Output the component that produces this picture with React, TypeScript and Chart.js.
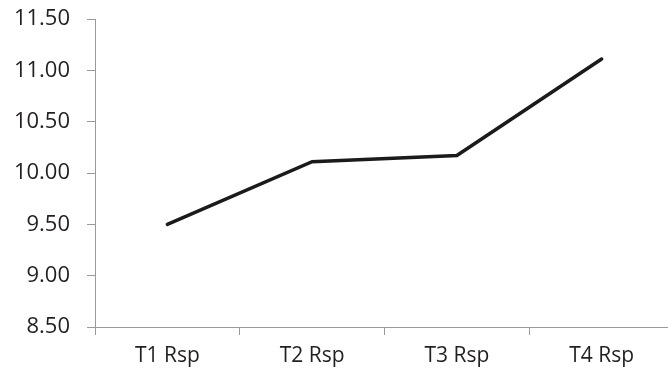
import React, { useEffect, useRef } from "react";
import { Chart, registerables } from "chart.js";

Chart.register(...registerables);

// Response means per time point
const categories: string[] = ["T1 Rsp", "T2 Rsp", "T3 Rsp", "T4 Rsp"];
const responseValues: number[] = [9.5, 10.11, 10.17, 11.11];
const yMin = 8.5;
const yMax = 11.5;
const yStep = 0.5;

const TEXT = "#231f20";
const AXIS = "#9a9a9a";
const FONT = "'Open Sans', 'Liberation Sans', sans-serif";

export default function App() {
  const canvasRef = useRef<HTMLCanvasElement | null>(null);

  useEffect(() => {
    document.body.style.margin = "0";
    const canvas = canvasRef.current;
    if (!canvas) return;
    const chart = new Chart(canvas, {
      type: "line",
      data: {
        labels: categories,
        datasets: [
          {
            data: responseValues,
            borderColor: "#1c1a1b",
            borderWidth: 3.5,
            borderCapStyle: "round",
            borderJoinStyle: "miter",
            pointRadius: 0,
            pointHoverRadius: 0,
            fill: false,
            tension: 0,
          },
        ],
      },
      options: {
        animation: false,
        responsive: false,
        devicePixelRatio: 1,
        layout: { padding: { top: 19, right: 16, bottom: 0, left: 0 } },
        plugins: {
          legend: { display: false },
          tooltip: { enabled: false },
        },
        scales: {
          x: {
            offset: true,
            grid: {
              offset: true,
              drawOnChartArea: false,
              drawTicks: true,
              tickLength: 8,
              color: AXIS,
              lineWidth: 1,
            },
            border: { display: true, color: AXIS, width: 1 },
            ticks: {
              color: TEXT,
              font: { family: FONT, size: 21 },
              padding: 8,
              maxRotation: 0,
            },
            afterFit: (s: any) => {
              s.height = 54;
              s.paddingLeft = 0;
              s.paddingRight = 0;
            },
          },
          y: {
            min: yMin,
            max: yMax,
            grid: {
              drawOnChartArea: false,
              drawTicks: true,
              tickLength: 8,
              color: AXIS,
              lineWidth: 1,
            },
            border: { display: true, color: AXIS, width: 1 },
            ticks: {
              stepSize: yStep,
              color: TEXT,
              font: { family: FONT, size: 22 },
              padding: 17,
              callback: (v: any) => Number(v).toFixed(2),
            },
            afterFit: (s: any) => {
              s.width = 95;
              s.paddingTop = 0;
              s.paddingBottom = 0;
            },
          },
        },
      },
    });
    return () => chart.destroy();
  }, []);

  return (
    <div
      style={{
        position: "absolute",
        left: 0,
        top: 0,
        width: 668,
        height: 381,
        overflow: "hidden",
        background: "#ffffff",
      }}
    >
      <canvas
        ref={canvasRef}
        width={690}
        height={381}
        style={{ width: 690, height: 381, display: "block" }}
      />
    </div>
  );
}
